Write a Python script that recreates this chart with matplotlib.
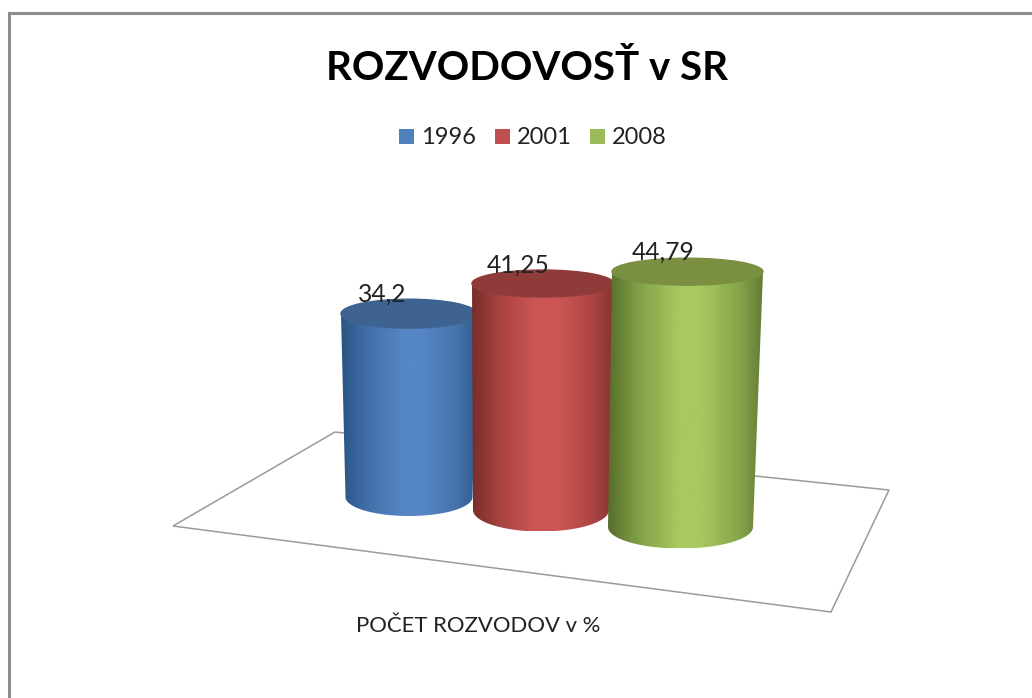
import numpy as np
import matplotlib
matplotlib.use("Agg")
import matplotlib.pyplot as plt
from matplotlib.colors import LinearSegmentedColormap, to_rgb
from matplotlib.patches import Ellipse, Polygon, Rectangle, PathPatch
from matplotlib.path import Path

# data
years = ["1996", "2001", "2008"]
values = [34.2, 41.25, 44.79]
value_labels = ["34,2", "41,25", "44,79"]
title = "ROZVODOVOSŤ v SR"
axis_label = "POČET ROZVODOV v %"

# styles
face_mid = ["#5586C6", "#CD5654", "#A7C95F"]
face_edge = ["#2A5484", "#7A2D2B", "#566F2B"]
face_top = ["#3E6390", "#8E3B39", "#7A9040"]
legend_cols = ["#4F81BD", "#C0504D", "#9BBB59"]
shade_stops = [(0, 1.0), (0.2, 0.45), (0.45, 0.0), (0.6, 0.0), (0.85, 0.4), (1, 0.85)]

# layout (perspective projection of the chart, in pixels)
base_x = [409, 541, 680.5]
base_y = [497, 510, 527]
base_rx = [63.5, 68, 72.5]
base_ry = [19, 21.5, 21.5]
top_x = [409, 543, 687.5]
top_rx = [68, 71, 75.5]
top_ry = [14.5, 13.5, 13.5]
px_per_unit = [5.36, 5.49, 5.70]
label_x = [382, 518.5, 663.5]
label_y_off = [20, 18, 20]
legend_x = [399, 495, 590]
floor = [(173, 526), (335, 432), (889, 490), (831, 612)]

plt.rcParams["font.family"] = ["Lato", "DejaVu Sans"]
fig = plt.figure(figsize=(10.32, 6.98), dpi=100, facecolor="white")
ax = fig.add_axes([0, 0, 1, 1])
ax.set_xlim(0, 1032)
ax.set_ylim(698, 0)
ax.axis("off")

# chart frame (runs off the right and bottom of the picture)
ax.add_patch(Rectangle((9, 13), 1100, 800, fc="white", ec="#8C8C8C", lw=2.2, zorder=0))

# floor
ax.add_patch(Polygon(floor, closed=True, fc="white", ec="#9A9A9A", lw=1.1, zorder=1))


def half_ellipse(cx, cy, rx, ry, start, stop, n=60):
    t = np.linspace(start, stop, n)
    return np.column_stack([cx + rx * np.cos(t), cy + ry * np.sin(t)])


def blend(a, b, f):
    a, b = np.array(to_rgb(a)), np.array(to_rgb(b))
    return tuple(a * (1 - f) + b * f)


for i, v in enumerate(values):
    z = 2 + i
    ty = base_y[i] - v * px_per_unit[i]
    bottom = half_ellipse(base_x[i], base_y[i], base_rx[i], base_ry[i], np.pi, 0)
    top = half_ellipse(top_x[i], ty, top_rx[i], top_ry[i], 0, np.pi)
    outline = np.vstack([bottom, top, bottom[:1]])
    cmap = LinearSegmentedColormap.from_list(
        "c", [(p, blend(face_mid[i], face_edge[i], f)) for p, f in shade_stops]
    )
    x0 = min(base_x[i] - base_rx[i], top_x[i] - top_rx[i])
    x1 = max(base_x[i] + base_rx[i], top_x[i] + top_rx[i])
    im = ax.imshow(
        np.linspace(0, 1, 256)[None, :], cmap=cmap, extent=(x0, x1, base_y[i] + base_ry[i], ty - top_ry[i]),
        aspect="auto", zorder=z, interpolation="bilinear",
    )
    patch = PathPatch(Path(outline), fc="none", ec="none", transform=ax.transData)
    ax.add_patch(patch)
    im.set_clip_path(patch)
    ax.add_patch(Ellipse((top_x[i], ty), 2 * top_rx[i], 2 * top_ry[i], fc=face_top[i],
                         ec=face_top[i], lw=1.0, zorder=z + 0.1))
    ax.text(label_x[i], ty - label_y_off[i], value_labels[i], fontsize=17.7, color="#222222",
            ha="center", va="center", zorder=6)

ax.set_xlim(0, 1032)
ax.set_ylim(698, 0)

ax.text(527.5, 80, title, fontsize=29, fontweight="bold", color="black", ha="center", va="baseline", zorder=7)
for i, y in enumerate(years):
    ax.add_patch(Rectangle((legend_x[i], 129), 15, 15, fc=legend_cols[i], ec="none", zorder=7))
    ax.text(legend_x[i] + 22, 137.5, y, fontsize=17, color="#222222", ha="left", va="center", zorder=7)

ax.text(478.5, 626, axis_label, fontsize=15.9, color="#222222", ha="center", va="center", zorder=7)

fig.savefig("out.png", dpi=100, facecolor="white")
